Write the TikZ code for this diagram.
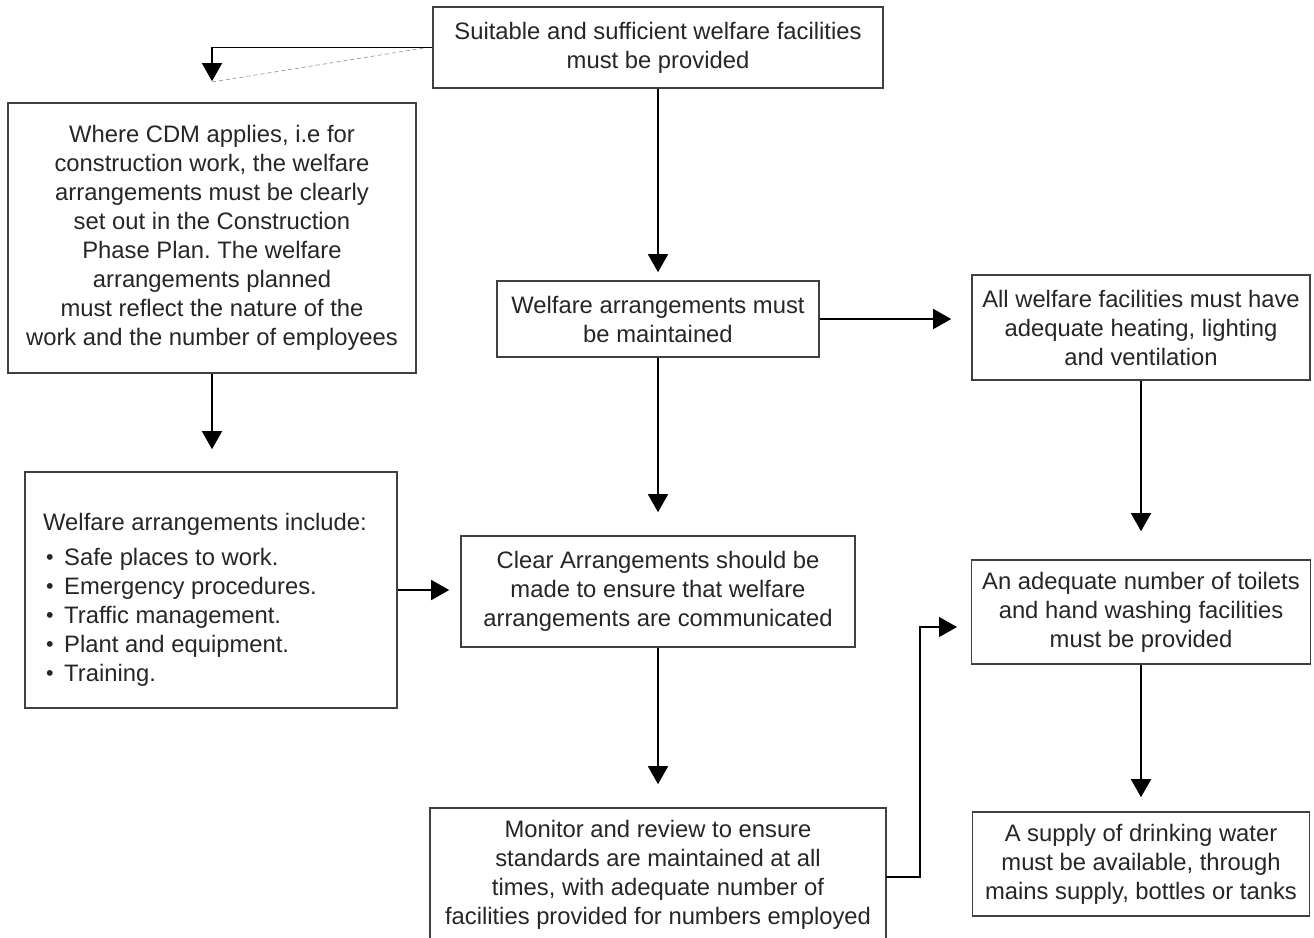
\documentclass[tikz,border=0pt]{standalone}
\usepackage{fontspec}
\setmainfont{Liberation Sans}
\usetikzlibrary{arrows.meta}
\frenchspacing
\tikzset{
  box/.style={draw=black!75, line width=1.6pt, rectangle, inner sep=0pt, align=center,
    text=black!85, font=\fontsize{23.8}{29}\selectfont},
  arr/.style={draw=black, line width=1.5pt, -{Triangle[width=20pt,length=18pt]}},
  faint/.style={draw=black!45, line width=0.6pt, dash pattern=on 4pt off 3pt}
}
\newcommand{\bul}{\makebox[21pt][l]{\hspace{3pt}\raisebox{1pt}{\scalebox{0.9}{•}}}}
\begin{document}
\begin{tikzpicture}[x=1pt,y=-1pt]
\useasboundingbox (0,0) rectangle (1314,937);
\clip (0,0) rectangle (1314,937);
\fill[white] (0,0) rectangle (1314,937);

\node[box, minimum width=450pt, minimum height=81pt] (top) at (658,47.5)
  {Suitable and sufficient welfare facilities\\must be provided};
\node[box, minimum width=408pt, minimum height=270pt] (cdm) at (212,238)
  {Where CDM applies, i.e for\\construction work, the welfare\\arrangements must be clearly\\set out in the Construction\\Phase Plan. The welfare\\arrangements planned\\must reflect the nature of the\\work and the number of employees};
\node[box, minimum width=322pt, minimum height=76pt] (maint) at (658,319)
  {Welfare arrangements must\\be maintained};
\node[box, minimum width=338pt, minimum height=105pt] (heat) at (1141,327.5)
  {All welfare facilities must have\\adequate heating, lighting\\and ventilation};
\node[box, minimum width=372pt, minimum height=236pt] (inc) at (211,590) {};
\node[anchor=north west, inner sep=0pt, align=left, text=black!85,
  font=\fontsize{23.8}{29}\selectfont] (inctext) at (43,513)
  {Welfare arrangements include:\\[6pt]
   \bul Safe places to work.\\
   \bul Emergency procedures.\\
   \bul Traffic management.\\
   \bul Plant and equipment.\\
   \bul Training.};
\node[box, minimum width=394pt, minimum height=111pt] (clear) at (658,591.5)
  {Clear Arrangements should be\\made to ensure that welfare\\arrangements are communicated};
\node[box, minimum width=339pt, minimum height=104pt] (toil) at (1141,612)
  {An adequate number of toilets\\and hand washing facilities\\must be provided};
\node[box, minimum width=456pt, minimum height=134pt] (mon) at (658,875)
  {Monitor and review to ensure\\standards are maintained at all\\times, with adequate number of\\facilities provided for numbers employed};
\node[box, minimum width=337pt, minimum height=104pt] (drink) at (1141,864)
  {A supply of drinking water\\must be available, through\\mains supply, bottles or tanks};

% connectors
\draw[arr, shorten >=21pt] (top.west) -| (cdm.north);
\coordinate (dl1) at (212,82);
\coordinate (dl2) at (424,48);
\draw[faint] (dl1) -- (dl2);
\draw[arr, shorten >=8pt] (top.south) -- (maint.north);
\draw[arr, shorten >=20pt] (maint.east) -- (heat.west |- maint.east);
\draw[arr, shorten >=23pt] (maint.south) -- (clear.north);
\draw[arr, shorten >=22pt] (cdm.south) -- (cdm.south |- inc.north);
\draw[arr, shorten >=11pt] (inc.east) -- (clear.west |- inc.east);
\draw[arr, shorten >=28pt] (heat.south) -- (toil.north);
\draw[arr, shorten >=23pt] (clear.south) -- (mon.north);
\draw[arr, shorten >=14pt] (toil.south) -- (drink.north);
\coordinate (m1) at (886,877);
\coordinate (bend) at (920,627);
\coordinate (t1) at (972,627);
\draw[arr, shorten >=15pt] (m1) -| (bend) -- (t1);
\end{tikzpicture}
\end{document}
